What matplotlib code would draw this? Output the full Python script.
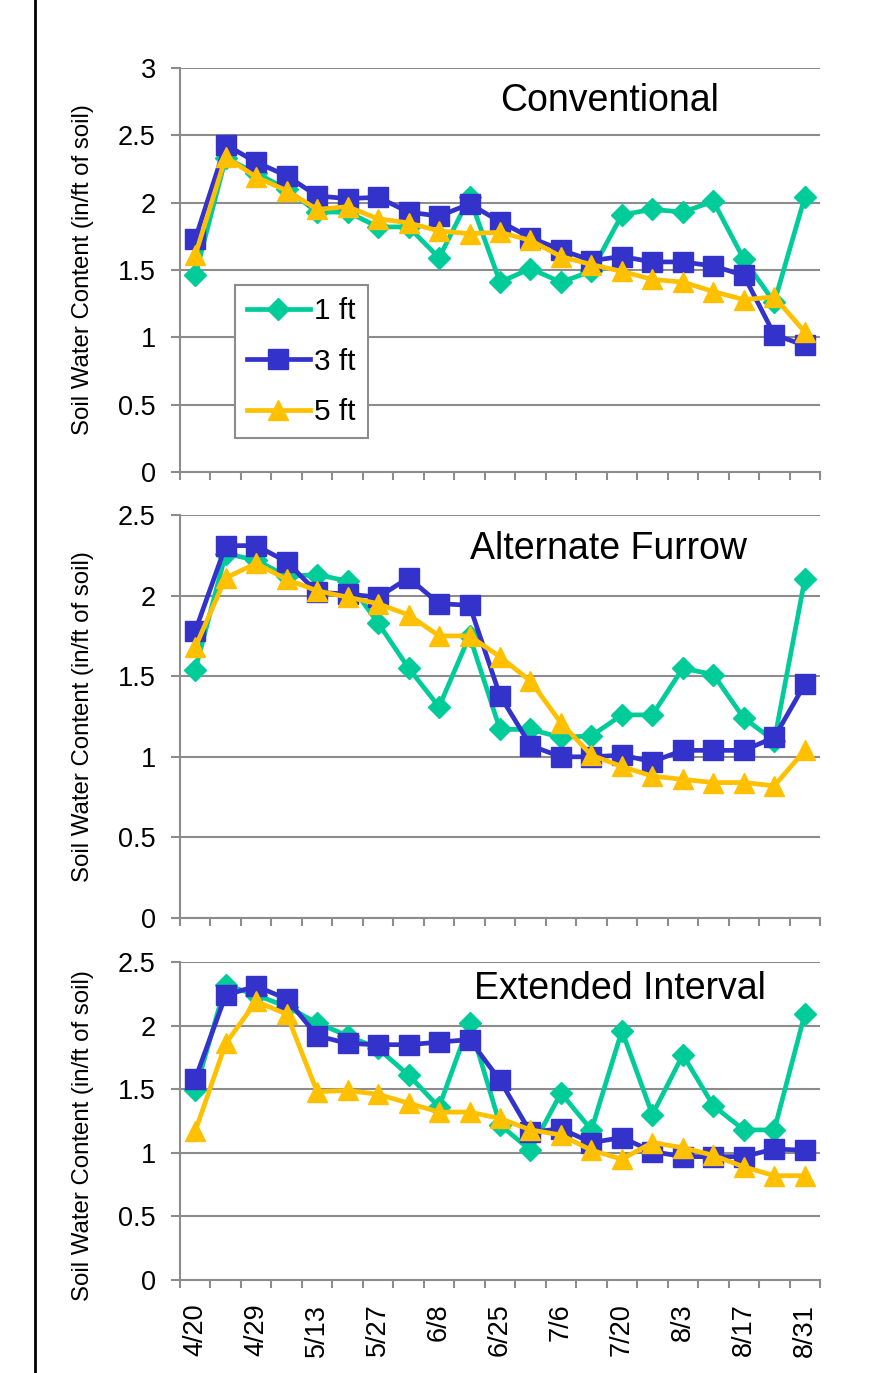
import numpy as np
import matplotlib
matplotlib.use('Agg')
import matplotlib.pyplot as plt
from matplotlib.lines import Line2D

plt.rcParams['font.family'] = ['Liberation Sans', 'DejaVu Sans']

#%% Data
tick_labels = ['4/20', '4/29', '5/13', '5/27', '6/8', '6/25', '7/6', '7/20', '8/3', '8/17', '8/31']
n_dates = 21  # labels are only printed on every other reading
series_names = ['1 ft', '3 ft', '5 ft']

conv_1ft = [1.46, 2.33, 2.22, 2.10, 1.93, 1.93, 1.82, 1.82, 1.59, 2.04, 1.41, 1.51, 1.41, 1.49, 1.91, 1.95, 1.93, 2.01, 1.58, 1.26, 2.04]
conv_3ft = [1.73, 2.43, 2.30, 2.20, 2.05, 2.03, 2.04, 1.93, 1.90, 1.99, 1.86, 1.74, 1.65, 1.57, 1.60, 1.56, 1.56, 1.53, 1.46, 1.02, 0.94]
conv_5ft = [1.61, 2.34, 2.19, 2.09, 1.95, 1.97, 1.88, 1.85, 1.79, 1.77, 1.78, 1.72, 1.60, 1.54, 1.49, 1.43, 1.41, 1.34, 1.28, 1.30, 1.04]

alt_1ft = [1.54, 2.26, 2.22, 2.12, 2.13, 2.09, 1.83, 1.55, 1.31, 1.75, 1.17, 1.17, 1.12, 1.13, 1.26, 1.26, 1.55, 1.51, 1.24, 1.10, 2.10]
alt_3ft = [1.78, 2.31, 2.31, 2.21, 2.02, 2.01, 1.99, 2.11, 1.95, 1.94, 1.38, 1.07, 1.00, 1.00, 1.01, 0.97, 1.04, 1.04, 1.04, 1.12, 1.45]
alt_5ft = [1.68, 2.11, 2.20, 2.10, 2.03, 1.99, 1.95, 1.88, 1.75, 1.75, 1.62, 1.47, 1.21, 1.01, 0.94, 0.88, 0.86, 0.84, 0.84, 0.82, 1.04]

ext_1ft = [1.49, 2.32, 2.24, 2.15, 2.02, 1.92, 1.82, 1.61, 1.36, 2.02, 1.22, 1.02, 1.47, 1.18, 1.96, 1.30, 1.77, 1.37, 1.18, 1.18, 2.09]
ext_3ft = [1.58, 2.24, 2.31, 2.21, 1.92, 1.86, 1.85, 1.85, 1.87, 1.89, 1.57, 1.16, 1.19, 1.08, 1.12, 1.01, 0.97, 0.97, 0.97, 1.03, 1.02]
ext_5ft = [1.17, 1.86, 2.19, 2.09, 1.48, 1.49, 1.46, 1.39, 1.32, 1.32, 1.27, 1.18, 1.14, 1.02, 0.95, 1.08, 1.04, 0.98, 0.89, 0.82, 0.82]

panels = [
    ('Conventional', [conv_1ft, conv_3ft, conv_5ft], 3.0),
    ('Alternate Furrow', [alt_1ft, alt_3ft, alt_5ft], 2.5),
    ('Extended Interval', [ext_1ft, ext_3ft, ext_5ft], 2.5),
]

colors = ['#00CC99', '#3333CC', '#FFC000']
markers = ['D', 's', '^']
msizes = [11, 14, 14]
grid_col = '#8C8C8C'

#%% Figure
fig = plt.figure(figsize=(8.92, 13.73), dpi=100)
W, H = 892.0, 1373.0
# axes boxes in pixels: (top, bottom)
boxes = [(68, 472), (515, 918), (962, 1280)]
title_pos = [(610, 101), (608, 549), (620, 989)]
ylabel_y = [270, 717, 1136]
left, right = 180, 820

x = np.arange(n_dates)
axes = []
for k, (title, data, ytop) in enumerate(panels):
    top, bot = boxes[k]
    ax = fig.add_axes([left / W, 1 - bot / H, (right - left) / W, (bot - top) / H])
    axes.append(ax)
    for vals, c, m, ms, name in zip(data, colors, markers, msizes, series_names):
        ax.plot(x, vals, color=c, marker=m, markersize=ms, lw=3.4,
                markeredgecolor=c, label=name, clip_on=False, zorder=3)
    ax.set_xlim(-0.5, n_dates - 0.5)
    ax.set_ylim(0, ytop)
    ax.set_yticks(np.arange(0, ytop + 0.01, 0.5))
    ax.set_yticklabels(['%g' % v for v in np.arange(0, ytop + 0.01, 0.5)])
    ax.yaxis.grid(True, color=grid_col, lw=1.5)
    ax.set_axisbelow(True)
    for s in ['top', 'right']:
        ax.spines[s].set_visible(False)
    for s in ['left', 'bottom']:
        ax.spines[s].set_color(grid_col)
        ax.spines[s].set_linewidth(1.5)
    ax.tick_params(axis='y', direction='out', length=6.5, width=1.5, color=grid_col,
                   labelsize=19.5, pad=11)
    # category boundary ticks
    ax.set_xticks(np.arange(-0.5, n_dates, 1.0), minor=True)
    ax.tick_params(axis='x', which='minor', direction='out', length=5.5, width=1.5, color=grid_col)
    ax.set_xticks(x[::2])
    if k == 2:
        ax.set_xticklabels(tick_labels, rotation=90, fontsize=19.5)
        ax.tick_params(axis='x', which='major', length=0, pad=17)
    else:
        ax.set_xticklabels([])
        ax.tick_params(axis='x', which='major', length=0)
    tx, ty = title_pos[k]
    fig.text(tx / W, 1 - ty / H, title, fontsize=27, ha='center', va='center')
    fig.text(83 / W, 1 - ylabel_y[k] / H, 'Soil Water Content (in/ft of soil)',
             rotation=90, fontsize=17.3, ha='center', va='center')

leg = axes[0].legend(loc='lower left', bbox_to_anchor=(0.086, 0.084), borderaxespad=0,
                     fontsize=21.5, handlelength=2.1, handletextpad=0.15,
                     labelspacing=0.75, borderpad=0.4, fancybox=False, framealpha=1)
leg.get_frame().set_edgecolor(grid_col)
leg.get_frame().set_linewidth(1.5)

# black border line on the left of the page
fig.add_artist(Line2D([35 / W, 35 / W], [0, 1], color='black', lw=2))

fig.savefig('out.png', dpi=100)
